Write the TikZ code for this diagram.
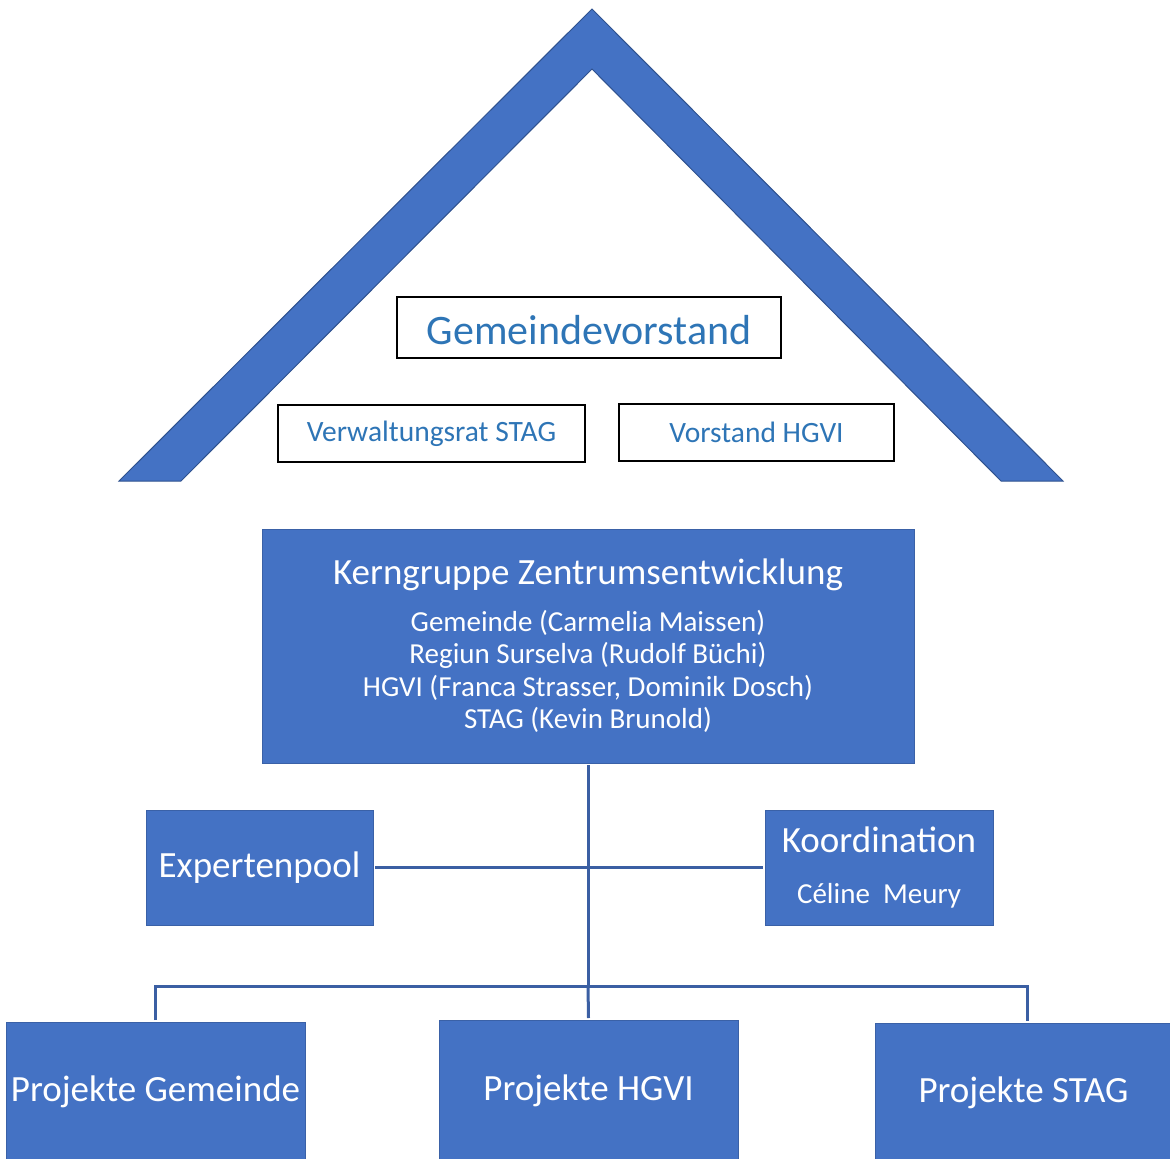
\documentclass[tikz,border=0pt]{standalone}
\usepackage{fontspec}
\setmainfont{Carlito}

\definecolor{roofblue}{HTML}{4472C4}
\definecolor{edgeblue}{HTML}{2F528F}
\definecolor{lineblue}{HTML}{3B5FA3}
\definecolor{textblue}{HTML}{2E75B6}

\tikzset{
  board/.style={draw=black, line width=2pt, text=textblue, inner sep=0pt},
  team/.style={fill=roofblue, draw=roofblue!85!black, line width=0.8pt, text=white, inner sep=0pt, align=center, outer sep=2pt},
  conn/.style={draw=lineblue, line width=3pt},
}

\begin{document}
\begin{tikzpicture}[x=1pt, y=-1pt]
\useasboundingbox (0,0) rectangle (1170,1159);

% roof
\fill[roofblue, draw=edgeblue, line width=1pt] (592,9) -- (1063,481) -- (1001,481) -- (592,69) -- (181,481) -- (119,481) -- cycle;

% boards under the roof
\node[board, minimum width=384pt, minimum height=61pt, text height=44pt, text depth=10pt] (gv) at (589,327.5) {\fontsize{42}{50}\selectfont Gemeindevorstand};
\node[board, minimum width=307pt, minimum height=57pt] (vrstag) at (431.5,433.5) {\raisebox{-1pt}{\fontsize{29.5}{35}\selectfont Verwaltungsrat STAG}};
\node[board, minimum width=275pt, minimum height=57pt] (vhgvi) at (756.5,432.5) {\fontsize{29.5}{35}\selectfont Vorstand HGVI};

% core group
\node[team, minimum width=652pt, minimum height=234pt] (kern) at (588,646) {\fontsize{37}{44}\selectfont Kerngruppe Zentrumsentwicklung\\[18pt]
  \fontsize{29}{32}\selectfont Gemeinde (Carmelia Maissen)\\[6pt]
  \fontsize{29}{32}\selectfont Regiun Surselva (Rudolf Büchi)\\[6pt]
  \fontsize{29}{32}\selectfont HGVI (Franca Strasser, Dominik Dosch)\\[6pt]
  \fontsize{29}{32}\selectfont STAG (Kevin Brunold)};

\node[team, minimum width=227pt, minimum height=115pt] (expert) at (259.5,867.5) {\fontsize{37}{44}\selectfont Expertenpool};
\node[team, minimum width=228pt, minimum height=115pt] (koord) at (879,867.5) {\fontsize{37}{44}\selectfont Koordination\\[30pt]
  \fontsize{29}{32}\selectfont Céline\ \ Meury};

% projects
\node[team, minimum width=299pt, minimum height=140pt] (pgem) at (155.5,1092) {\fontsize{37}{44}\selectfont Projekte Gemeinde};
\node[team, minimum width=299pt, minimum height=142pt] (phgvi) at (588.5,1091) {\fontsize{37}{44}\selectfont Projekte HGVI};
\node[team, minimum width=297pt, minimum height=139pt] (pstag) at (1023.5,1092.5) {\fontsize{37}{44}\selectfont Projekte STAG};

% connectors
\coordinate (bus) at (kern.south |- 0,986);
\draw[conn] (kern.south) -- (bus);
\draw[conn] (expert.east) -- (koord.west);
\draw[conn] (pgem.north) |- (bus) -| ([xshift=3.5pt]pstag.north);
\draw[conn] (bus) -- (phgvi.north);
\end{tikzpicture}
\end{document}
